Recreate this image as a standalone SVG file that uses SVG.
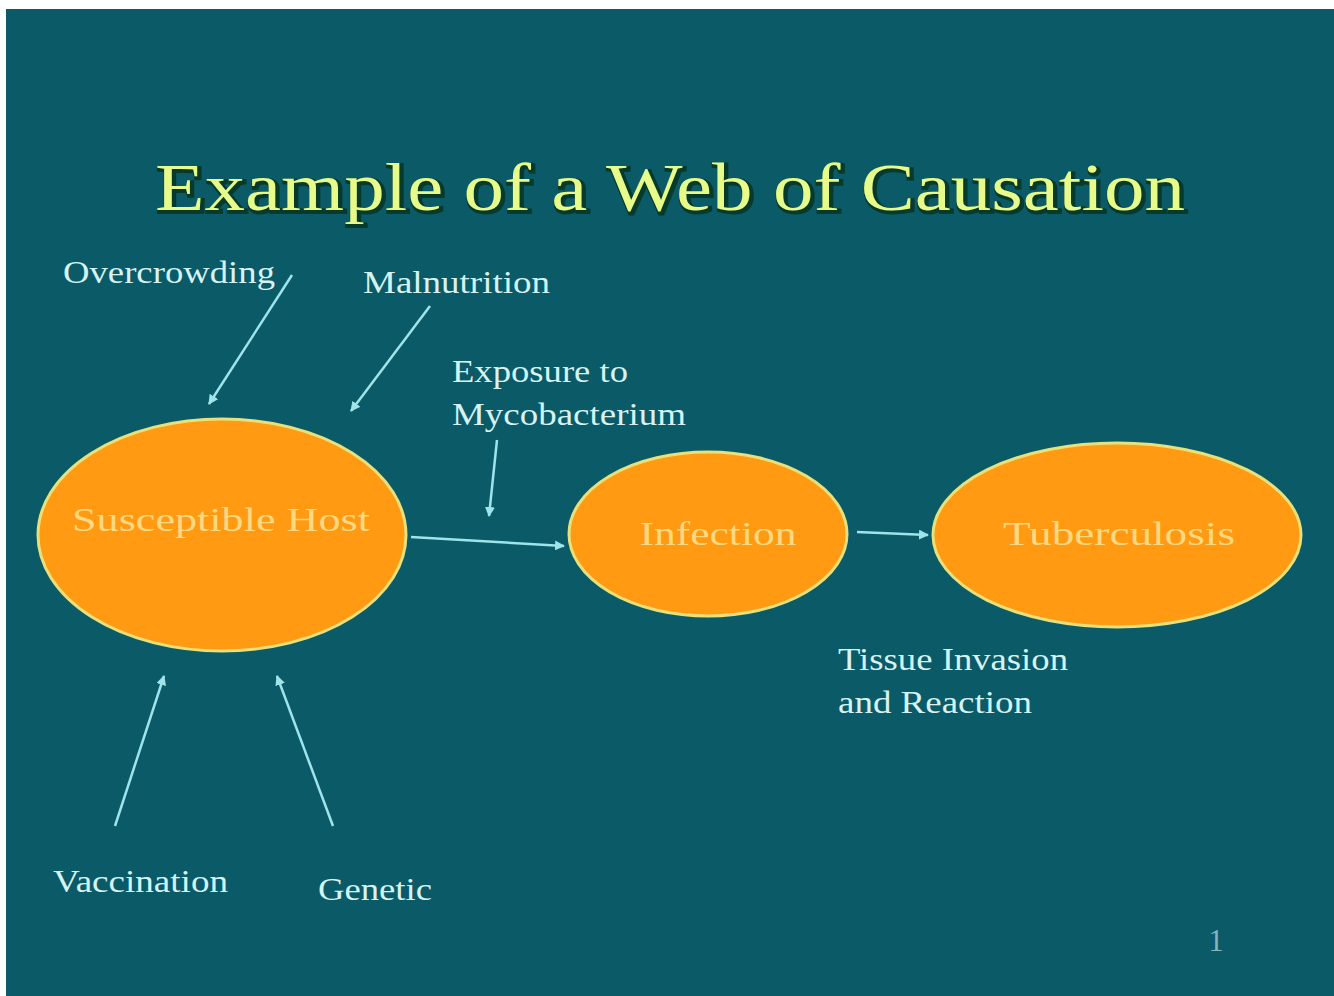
<svg xmlns="http://www.w3.org/2000/svg" width="1334" height="996" viewBox="0 0 1334 996">
<style>
.bg{fill:#0b5a68}
.node ellipse{fill:#ff9a12;stroke:#e8e07a;stroke-width:3}
.ntxt{font-size:34px;fill:#ffd880;text-anchor:middle}
.lbl{font-size:31px;fill:#d6f3f3}
.title{font-size:68px;fill:#e6fb8a}
.tshadow{font-size:68px;fill:#083a2c;stroke:#083a2c;stroke-width:4}
.conn line{stroke:#9fe4ea;stroke-width:2.5;marker-end:url(#arr)}
</style>
<defs>
<marker id="arr" viewBox="0 0 10 10" refX="9" refY="5" markerWidth="4" markerHeight="4" orient="auto" markerUnits="strokeWidth">
<path d="M0,0 L10,5 L0,10 z" fill="#9fe4ea"/>
</marker>
</defs>
<rect x="0" y="0" width="1334" height="996" fill="#ffffff"/>
<rect class="bg" x="6" y="9" width="1328" height="987"/>
<g font-family="'Liberation Serif', Tinos, 'Times New Roman', serif">
<g id="title">
<text class="tshadow" x="157" y="212" textLength="1030" lengthAdjust="spacingAndGlyphs">Example of a Web of Causation</text>
<text class="title" x="155" y="210" textLength="1030" lengthAdjust="spacingAndGlyphs">Example of a Web of Causation</text>
</g>
<g id="connectors" class="conn">
<line x1="292" y1="275" x2="209" y2="404"/>
<line x1="430" y1="306" x2="351" y2="411"/>
<line x1="497" y1="440" x2="489" y2="516"/>
<line x1="411" y1="537" x2="564" y2="546"/>
<line x1="857" y1="532" x2="928" y2="535"/>
<line x1="115" y1="826" x2="164" y2="676"/>
<line x1="333" y1="826" x2="277" y2="676"/>
</g>
<g id="host" class="node">
<ellipse cx="222" cy="535" rx="184" ry="116"/>
<text class="ntxt" x="221" y="531" textLength="298" lengthAdjust="spacingAndGlyphs">Susceptible Host</text>
</g>
<g id="infection" class="node">
<ellipse cx="708" cy="534" rx="139" ry="82"/>
<text class="ntxt" x="718" y="545" textLength="157" lengthAdjust="spacingAndGlyphs">Infection</text>
</g>
<g id="tuberculosis" class="node">
<ellipse cx="1117" cy="535" rx="184" ry="92"/>
<text class="ntxt" x="1119" y="545" textLength="232" lengthAdjust="spacingAndGlyphs">Tuberculosis</text>
</g>
<g id="overcrowding"><text class="lbl" x="63" y="283" textLength="212" lengthAdjust="spacingAndGlyphs">Overcrowding</text></g>
<g id="malnutrition"><text class="lbl" x="363" y="293" textLength="187" lengthAdjust="spacingAndGlyphs">Malnutrition</text></g>
<g id="exposure">
<text class="lbl" x="452" y="382" textLength="176" lengthAdjust="spacingAndGlyphs">Exposure to</text>
<text class="lbl" x="452" y="425" textLength="234" lengthAdjust="spacingAndGlyphs">Mycobacterium</text>
</g>
<g id="tissue">
<text class="lbl" x="838" y="670" textLength="230" lengthAdjust="spacingAndGlyphs">Tissue Invasion</text>
<text class="lbl" x="838" y="713" textLength="194" lengthAdjust="spacingAndGlyphs">and Reaction</text>
</g>
<g id="vaccination"><text class="lbl" x="53" y="892" textLength="175" lengthAdjust="spacingAndGlyphs">Vaccination</text></g>
<g id="genetic"><text class="lbl" x="318" y="900" textLength="114" lengthAdjust="spacingAndGlyphs">Genetic</text></g>
<g id="pagenum"><text class="lbl" x="1216" y="951" font-size="22" text-anchor="middle" fill-opacity="0.6">1</text></g>
</g>
</svg>
